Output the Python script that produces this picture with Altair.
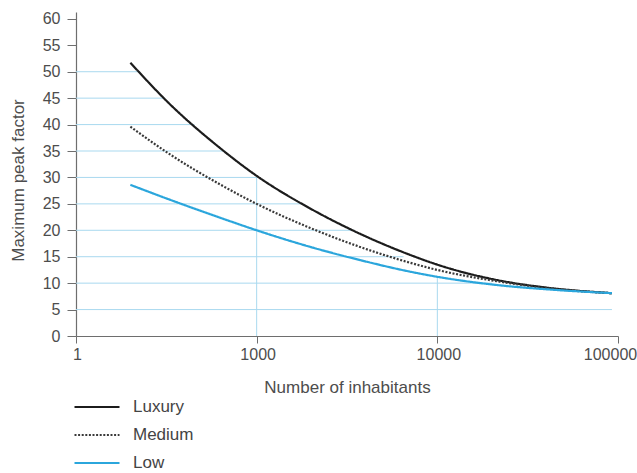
import altair as alt
import pandas as pd

# ---- data ----
inhabitants = [200, 330, 625, 1000, 1960, 3700, 7000, 10000, 22000, 41600, 92600]
luxury = [51.7, 43.9, 35.6, 30.3, 24.2, 19.4, 15.4, 13.5, 10.5, 9.1, 8.1]
medium = [39.6, 34.4, 28.7, 25.0, 20.5, 16.9, 13.9, 12.5, 10.3, 9.0, 8.1]
low = [28.6, 25.8, 22.4, 20.0, 16.9, 14.4, 12.2, 11.2, 9.6, 8.8, 8.1]

series = ["Luxury", "Medium", "Low"]
series_colors = ["#1c1c1c", "#3a3a3a", "#2ba6dc"]
series_dash = [[1, 0], [2, 1.6], [1, 0]]

x_ticks = [100, 1000, 10000, 100000]
x_tick_labels = ["1", "1000", "10000", "100000"]
y_ticks = [0, 5, 10, 15, 20, 25, 30, 35, 40, 45, 50, 55, 60]

grid_levels = [5, 10, 15, 20, 25, 30, 35, 40, 45, 50]
grid_ends = [92600, 20000, 6500, 3460, 1790, 1000, 669, 452, 310, 224]
marker_x = [1000, 10000]
marker_top = [30.3, 11.2]

FONT = "Liberation Sans"
GRID = "#a9d9ef"
FS = 16
TFS = 17

# ---- tables ----
rows = []
for name, vals in zip(series, [luxury, medium, low]):
    for n, v in zip(inhabitants, vals):
        rows.append({"series": name, "n": n, "v": v})
df = pd.DataFrame(rows)

grid_df = pd.DataFrame({"x0": [x_ticks[0]] * len(grid_levels), "x1": grid_ends, "y": grid_levels})
mark_df = pd.DataFrame({"x": marker_x, "y0": [0] * len(marker_x), "y1": marker_top})

label_expr = " : ".join(
    f"datum.value == {v} ? '{t}'" for v, t in zip(x_ticks, x_tick_labels)
) + " : ''"

xscale = alt.Scale(type="log", domain=[x_ticks[0], x_ticks[-1]])
yscale = alt.Scale(domain=[0, 61.3], nice=False)

x_axis = alt.Axis(values=x_ticks, labelExpr=label_expr, title="Number of inhabitants",
                  grid=False, tickSize=7, labelPadding=3, titlePadding=17, labelFlush=False,
                  labelOffset={"condition": {"test": f"datum.value == {x_ticks[-1]}", "value": -8}, "value": 1})
y_axis = alt.Axis(values=y_ticks, title="Maximum peak factor", grid=False,
                  tickSize=9, labelPadding=7, titlePadding=15, labelOverlap=False, titleY=168)

hgrid = alt.Chart(grid_df).mark_rule(color=GRID, strokeWidth=1).encode(
    x=alt.X("x0:Q", scale=xscale, axis=x_axis),
    x2="x1:Q",
    y=alt.Y("y:Q", scale=yscale, axis=y_axis),
)

vgrid = alt.Chart(mark_df).mark_rule(color=GRID, strokeWidth=1).encode(
    x=alt.X("x:Q", scale=xscale, axis=x_axis),
    y=alt.Y("y0:Q", scale=yscale, axis=y_axis),
    y2="y1:Q",
)

legend = alt.Legend(
    title=None, orient="none", legendX=-3, legendY=381, symbolType="stroke",
    symbolSize=2025, symbolStrokeWidth=2.2, labelFontSize=TFS, labelColor="#444",
    labelFont=FONT, labelOffset=12, rowPadding=0, padding=0, clipHeight=28,
)

lines = alt.Chart(df).mark_line(interpolate="monotone", strokeWidth=2.2).encode(
    x=alt.X("n:Q", scale=xscale, axis=x_axis),
    y=alt.Y("v:Q", scale=yscale, axis=y_axis),
    color=alt.Color("series:N", scale=alt.Scale(domain=series, range=series_colors), legend=legend),
    strokeDash=alt.StrokeDash("series:N", scale=alt.Scale(domain=series, range=series_dash), legend=legend),
    detail="series:N",
)

chart = (
    alt.layer(hgrid, vgrid, lines)
    .properties(width=542, height=324,
                autosize=alt.AutoSizeParams(type="none"),
                padding={"left": 76, "top": 12, "right": 19, "bottom": 137})
    .configure_view(strokeWidth=0)
    .configure_axis(
        domainColor="#6e6e6e", tickColor="#6e6e6e", domainWidth=1.2, tickWidth=1,
        labelFont=FONT, titleFont=FONT, labelFontSize=FS, titleFontSize=TFS,
        labelColor="#4d4d4d", titleColor="#4d4d4d", titleFontWeight="normal",
    )
)

chart.save("out.html", embed_options={"renderer": "svg", "actions": False})
